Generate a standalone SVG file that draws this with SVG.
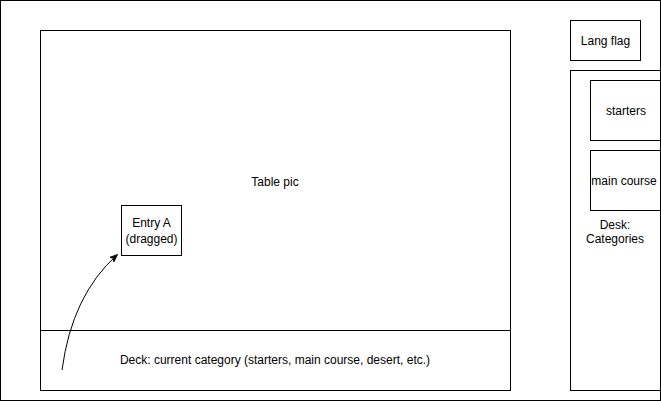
<svg xmlns="http://www.w3.org/2000/svg" width="661" height="401" viewBox="0 0 661 401">
<style>
rect{fill:#fff;stroke:#000;stroke-width:1}
text{font-family:"Liberation Sans",Arial,sans-serif;font-size:12px;fill:#000;text-anchor:middle;dominant-baseline:central}
</style>
<defs>
<marker id="ah" viewBox="0 0 10 10" refX="9" refY="5" markerWidth="8" markerHeight="8" orient="auto" markerUnits="userSpaceOnUse">
<path d="M0,1 L10,5 L0,9 L3,5 Z" fill="#000" stroke="#000" stroke-width="1"/>
</marker>
</defs>
<rect id="frame" x="0.5" y="0.5" width="660" height="400"/>
<g id="table"><rect x="40.5" y="30.5" width="470" height="300"/><text x="275" y="182">Table pic</text></g>
<g id="deck"><rect x="40.5" y="330.5" width="470" height="60"/><text x="275" y="360">Deck: current category (starters, main course, desert, etc.)</text></g>
<g id="entry"><rect x="121.5" y="205.5" width="60" height="50"/><text x="151.5" y="223">Entry A</text><text x="151.5" y="239">(dragged)</text></g>
<g id="lang"><rect x="570.5" y="20.5" width="70" height="40"/><text x="605.5" y="41">Lang flag</text></g>
<g id="desk"><rect x="570.5" y="70.5" width="95" height="320"/><text x="615" y="225">Desk:</text><text x="615" y="239">Categories</text></g>
<g id="starters"><rect x="590.5" y="80.5" width="75" height="60"/><text x="626" y="111">starters</text></g>
<g id="main"><rect x="590.5" y="150.5" width="75" height="60"/><text x="624" y="181">main course</text></g>
<g id="connectors"><path d="M62,370 Q72,295 117,255" fill="none" stroke="#000" stroke-width="1" marker-end="url(#ah)"/></g>
<line x1="660.5" y1="0" x2="660.5" y2="401" stroke="#000"/>
</svg>
